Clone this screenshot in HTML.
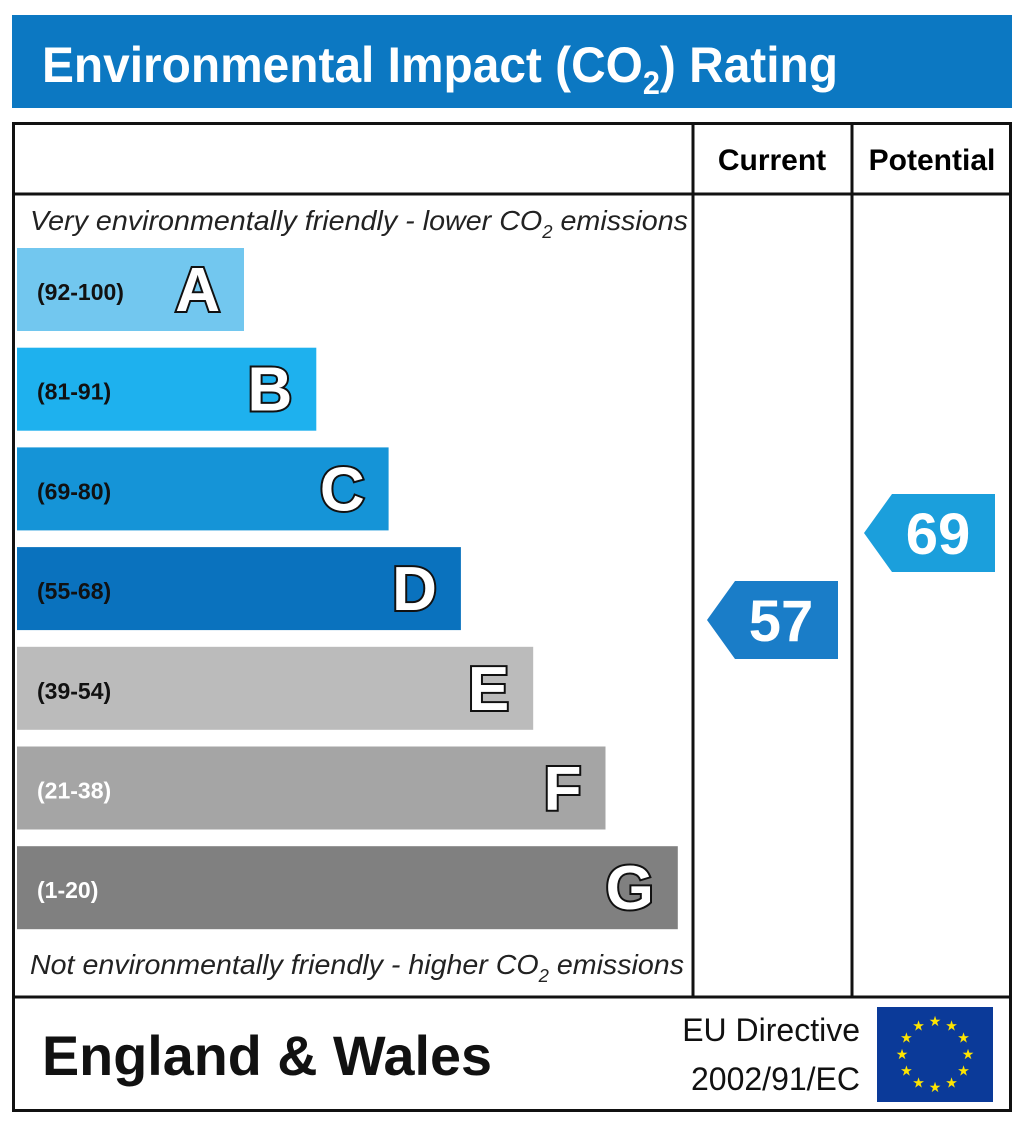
<!DOCTYPE html>
<html><head><meta charset="utf-8"><style>
body{margin:0;background:#fff;}
svg text{font-family:"Liberation Sans",sans-serif;}
</style></head><body>
<svg width="1024" height="1124" viewBox="0 0 1024 1124">
<rect x="12" y="15" width="1000" height="93" fill="#0C78C2"/>
<text x="42" y="82" font-size="50" font-weight="bold" fill="#fff" textLength="796" lengthAdjust="spacingAndGlyphs">Environmental Impact (CO<tspan font-size="32" dy="12">2</tspan><tspan dy="-12">) Rating</tspan></text>
<rect x="13.5" y="123.5" width="997" height="987" fill="none" stroke="#111" stroke-width="3"/>
<line x1="12" y1="194" x2="1012" y2="194" stroke="#111" stroke-width="3"/>
<line x1="12" y1="997" x2="1012" y2="997" stroke="#111" stroke-width="3"/>
<line x1="693" y1="123" x2="693" y2="997" stroke="#111" stroke-width="3"/>
<line x1="852" y1="123" x2="852" y2="997" stroke="#111" stroke-width="3"/>
<text x="772" y="170" font-size="30" font-weight="bold" text-anchor="middle">Current</text>
<text x="932" y="170" font-size="30" font-weight="bold" text-anchor="middle">Potential</text>
<text x="30" y="230" font-size="28" font-style="italic" fill="#222" textLength="658" lengthAdjust="spacingAndGlyphs">Very environmentally friendly - lower CO<tspan font-size="18" dy="8">2</tspan><tspan dy="-8"> emissions</tspan></text>
<text x="30" y="974" font-size="28" font-style="italic" fill="#222" textLength="654" lengthAdjust="spacingAndGlyphs">Not environmentally friendly - higher CO<tspan font-size="18" dy="8">2</tspan><tspan dy="-8"> emissions</tspan></text>
<g id="bands"></g>
<g id="arrows"></g>
<text x="42" y="1075" font-size="56" font-weight="bold" fill="#111" textLength="450" lengthAdjust="spacingAndGlyphs">England &amp; Wales</text>
<text x="860" y="1041" font-size="32" text-anchor="end" fill="#111">EU Directive</text>
<text x="860" y="1090" font-size="32" text-anchor="end" fill="#111">2002/91/EC</text>
<rect x="877" y="1007" width="116" height="95" fill="#0B3A99"/>
<g id="stars" fill="#FFE500"></g>
</svg>
<script>
const bandLetters=["A","B","C","D","E","F","G"];
const bandRanges=["(92-100)","(81-91)","(69-80)","(55-68)","(39-54)","(21-38)","(1-20)"];
const bandColors=["#72C7EF","#1EB1EE","#1594D7","#0A72BE","#BBBBBB","#A5A5A5","#808080"];
const currentValue=57;
const potentialValue=69;
const NS="http://www.w3.org/2000/svg";
function mk(t,a,p){const e=document.createElementNS(NS,t);for(const k in a)e.setAttribute(k,a[k]);p.appendChild(e);return e;}
const bands=document.getElementById("bands");
bandLetters.forEach((L,i)=>{
  const y=248+i*99.7, w=227+i*72.3;
  const r=mk("rect",{x:17,y:y,width:w,height:83,fill:bandColors[i]},bands);
  
  
  const t=mk("text",{x:37,y:y+52,"font-size":23,"font-weight":"bold",fill:(i==5||i==6)?"#fff":"#111"},bands);
  t.textContent=bandRanges[i];
  
  
  const l=mk("text",{x:17+w-24,y:y+63,"font-size":62,"font-weight":"bold","text-anchor":"end",fill:"#fff",stroke:"#111","stroke-width":4,"paint-order":"stroke"},bands);
  l.textContent=L;
  
  
});
function yFor(v){return 620-(v-57)*7.25;}
const arrows=document.getElementById("arrows");
function arrow(v,x0,color,name){
  const cy=yFor(v), h=78, x1=x0+131;
  const p=mk("polygon",{points:`${x0},${cy} ${x0+28},${cy-h/2} ${x1},${cy-h/2} ${x1},${cy+h/2} ${x0+28},${cy+h/2}`,fill:color},arrows);
  
  
  const t=mk("text",{x:x0+74,y:cy+21,"font-size":58,"font-weight":"bold",fill:"#fff","text-anchor":"middle"},arrows);
  t.textContent=v;
  
  
}
arrow(currentValue,707,"#1A7DC8","current");
arrow(potentialValue,864,"#1B9FDC","potential");
const stars=document.getElementById("stars");
for(let k=0;k<12;k++){
  const a=k*Math.PI/6, cx=935+33*Math.sin(a), cy=1054-33*Math.cos(a);
  const s=mk("text",{x:cx,y:cy+5,"font-size":14,"text-anchor":"middle",fill:"#FFE500"},stars);
  s.textContent="★";
  
  
}
</script>
</body></html>
